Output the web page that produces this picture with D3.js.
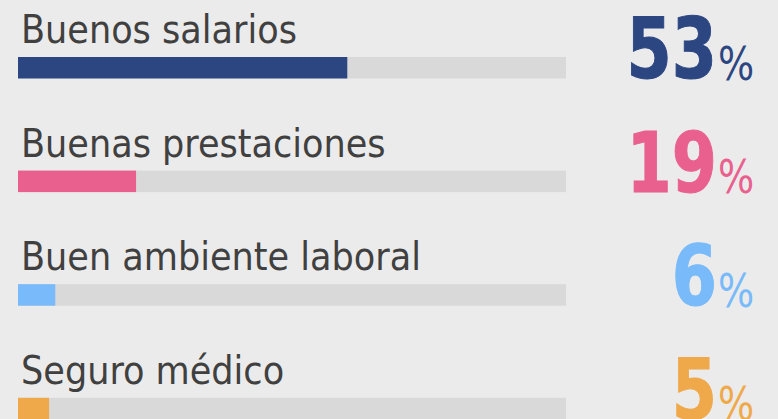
<!DOCTYPE html>
<html>
<head>
<meta charset="utf-8">
<script src="https://cdn.jsdelivr.net/npm/d3@7"></script>
<style>
  html, body { margin: 0; padding: 0; background: #ebebeb; }
  #grafica { width: 778px; height: 419px; overflow: hidden; }
</style>
</head>
<body>
<div id="grafica"></div>
<script>
// datos
categorias = ['Buenos salarios', 'Buenas prestaciones', 'Buen ambiente laboral', 'Seguro médico']
valores    = [53, 19, 6, 5]
colores    = ['#2c4682', '#e9608e', '#78bafa', '#efa94b']

ancho_total = 778
alto_total  = 419
margin = { left: 18, top: 57 }

ancho_barra = 548   // pista gris
alto_barra  = 21.5
paso        = 113.6

svg = d3
        .select('#grafica')
        .append('svg')
        .attr('width', ancho_total)
        .attr('height', alto_total)

svg
  .append('rect')
  .attr('width', ancho_total)
  .attr('height', alto_total)
  .attr('fill', '#ebebeb')

x = d3.scaleLinear()
      .domain([0, 88.2])
      .range([0, ancho_barra])

y = d3.scaleBand()
      .domain(categorias)
      .range([0, paso * categorias.length])

g = svg
      .append('g')
      .attr('transform', `translate(${margin.left}, ${margin.top})`)

filas = g
          .selectAll('g.fila')
          .data(categorias)
          .enter()
          .append('g')
          .attr('class', 'fila')
          .attr('transform', (d) => `translate(0, ${y(d)})`)

// pista
filas
  .append('rect')
  .attr('width', ancho_barra)
  .attr('height', alto_barra)
  .attr('fill', '#d9d9d9')

// barra
filas
  .append('rect')
  .attr('width', (d, i) => x(valores[i]))
  .attr('height', alto_barra)
  .attr('fill', (d, i) => colores[i])

// etiqueta
filas
  .append('text')
  .attr('x', 3)
  .attr('y', -14)
  .attr('font-family', 'DejaVu Sans Condensed, DejaVu Sans')
  .attr('font-size', '39px')
  .attr('fill', '#404040')
  .text((d) => d)

// porcentaje: numero grande + signo chico
x_num = 717 - margin.left

filas
  .append('text')
  .attr('transform', `translate(${x_num}, ${alto_barra - 0.5}) scale(0.86, 1)`)
  .attr('text-anchor', 'end')
  .attr('font-family', 'DejaVu Sans Condensed, DejaVu Sans')
  .attr('font-weight', 'bold')
  .attr('font-size', '84px')
  .attr('fill', (d, i) => colores[i])
  .attr('stroke', (d, i) => colores[i])
  .attr('stroke-width', 1)
  .text((d, i) => valores[i])

filas
  .append('text')
  .attr('transform', `translate(${x_num + 1}, ${alto_barra + 1}) scale(0.9, 1)`)
  .attr('font-family', 'DejaVu Sans Condensed, DejaVu Sans')
  .attr('font-size', '47px')
  .attr('fill', (d, i) => colores[i])
  .text('%')
</script>
</body>
</html>
